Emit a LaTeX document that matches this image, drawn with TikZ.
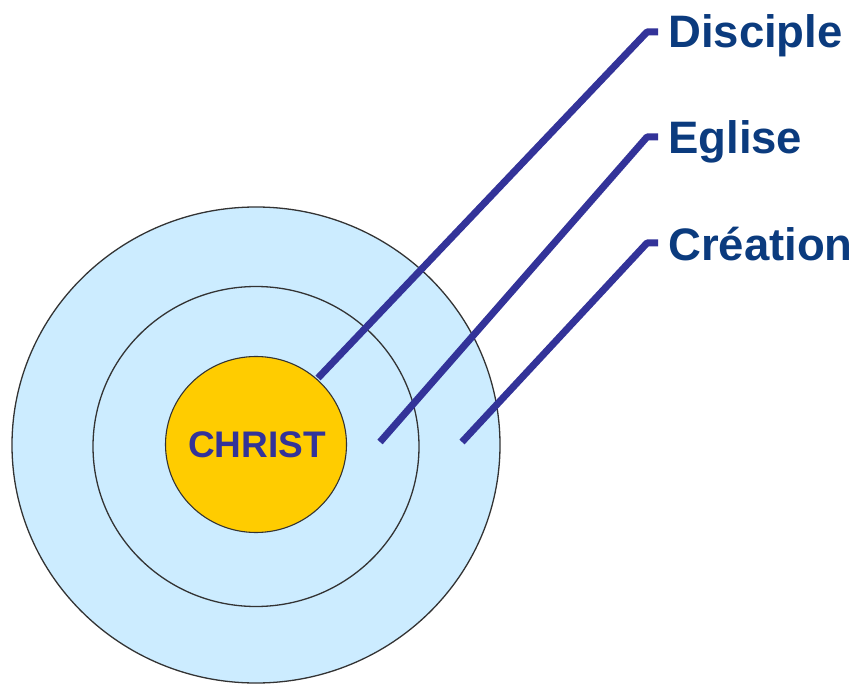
\documentclass[tikz,border=0pt]{standalone}
\usepackage{fontspec}
\setmainfont{Liberation Sans}
\usetikzlibrary{shapes.geometric}
\definecolor{ringblue}{HTML}{CCECFF}
\definecolor{coreyellow}{HTML}{FFCC00}
\definecolor{linkblue}{HTML}{333399}
\definecolor{labelblue}{HTML}{0B3B7E}
\definecolor{edgegray}{HTML}{333333}
\begin{document}
\begin{tikzpicture}[x=1pt,y=-1pt,
  ring/.style={ellipse, draw=edgegray, line width=1.3pt, fill=ringblue, inner sep=0pt},
  core/.style={ellipse, draw=edgegray, line width=1.1pt, fill=coreyellow, inner sep=0pt},
  coretext/.style={inner sep=0pt, font=\fontsize{37}{37}\selectfont\bfseries, text=linkblue},
  link/.style={draw=linkblue, line width=7pt, line join=round},
  label/.style={anchor=base west, inner sep=0pt, font=\fontsize{45.5}{45.5}\selectfont\bfseries, text=labelblue}]
\useasboundingbox (0,0) rectangle (856,684);
\node[ring, minimum width=488, minimum height=476] (outer) at (256,445) {};
\node[ring, minimum width=326, minimum height=320] (middle) at (256,446.5) {};
% connectors
\coordinate (d0) at (318,378); \coordinate (d1) at (647,32); \coordinate (d2) at (658,32);
\coordinate (e0) at (380,442); \coordinate (e1) at (647,137); \coordinate (e2) at (658,137);
\coordinate (c0) at (462,442); \coordinate (c1) at (647,243); \coordinate (c2) at (658,243);
\draw[link] (d0) -- (d1) -- (d2);
\draw[link] (e0) -- (e1) -- (e2);
\draw[link] (c0) -- (c1) -- (c2);
\node[core, minimum width=181, minimum height=176] (christ) at (256,444.5) {};
\node[coretext] (christtext) at (257,445) {CHRIST};
\node[label] (disciple) at (668,48) {Disciple};
\node[label] (eglise) at (668,154) {Eglise};
\node[label] (creation) at (668,261) {Création};
\end{tikzpicture}
\end{document}
